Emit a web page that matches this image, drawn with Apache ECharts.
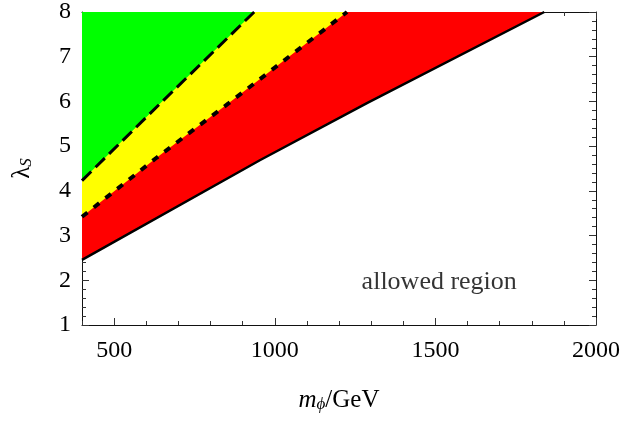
<!DOCTYPE html>
<html><head><meta charset="utf-8">
<script src="https://cdn.jsdelivr.net/npm/echarts@6/dist/echarts.min.js"></script>
<style>html,body{margin:0;padding:0;background:#fff}#c{width:624px;height:423px}</style>
</head><body><div id="c"></div>
<script>
// ---- data ----
const xTickLabels = [500, 1000, 1500, 2000];
const yTickLabels = [1, 2, 3, 4, 5, 6, 7, 8];
// solid black boundary (red region above it)
const solidLine = [[400, 2.455], [955, 4.69], [1287, 5.96], [1839, 8]];
// dotted boundary (yellow region above it)
const dottedLine = [[400, 3.42], [633, 4.745], [856, 5.957], [1225, 8]];
// dashed boundary (green region above it)
const dashedLine = [[400, 4.23], [644, 5.957], [936, 8]];
const annotationPoint = [[1512, 1.95]];
const annotationText = 'allowed region';

const FONT = '"Liberation Serif", "Times New Roman", "DejaVu Serif", serif';
const tickColor = '#333';

function xAx(pos, isMajor, showLabel) {
  return {
    type: 'value', position: pos, min: 400, max: 2000,
    interval: isMajor ? undefined : 100,
    axisLine: { show: isMajor, onZero: false, lineStyle: { color: '#111', width: 1 } },
    axisTick: isMajor
      ? { show: true, inside: true, length: 7, customValues: xTickLabels, lineStyle: { color: tickColor } }
      : { show: true, inside: true, length: 4, lineStyle: { color: tickColor } },
    axisLabel: showLabel
      ? { show: true, customValues: xTickLabels, formatter: v => String(v), margin: 14, fontFamily: FONT, fontSize: 24, color: '#000' }
      : { show: false },
    splitLine: { show: false },
    name: showLabel ? '{i|m}{sub|ϕ}{r|/GeV}' : '',
    nameLocation: 'middle', nameGap: 63,
    nameTextStyle: {
      rich: {
        i: { fontFamily: FONT, fontStyle: 'italic', fontSize: 25, color: '#000' },
        sub: { fontFamily: FONT, fontStyle: 'italic', fontSize: 17, color: '#000', verticalAlign: 'bottom', padding: [8, 0, 0, 0] },
        r: { fontFamily: FONT, fontSize: 25, color: '#000' }
      }
    }
  };
}
function yAx(pos, showLabel) {
  return {
    type: 'value', position: pos, min: 1, max: 8, interval: 1,
    axisLine: { show: true, onZero: false, lineStyle: { color: '#111', width: 1 } },
    axisTick: { show: true, inside: true, length: 7, lineStyle: { color: tickColor } },
    minorTick: { show: true, splitNumber: 5, length: 4, lineStyle: { color: tickColor } },
    axisLabel: showLabel
      ? { show: true, margin: 11, formatter: v => String(v), fontFamily: FONT, fontSize: 24, color: '#000' }
      : { show: false },
    splitLine: { show: false },
    name: showLabel ? '{i|λ}{sub|S}' : '',
    nameLocation: 'middle', nameGap: 47, nameRotate: 90,
    nameTextStyle: {
      rich: {
        i: { fontFamily: FONT, fontSize: 25, color: '#000' },
        sub: { fontFamily: FONT, fontStyle: 'italic', fontSize: 17, color: '#000', verticalAlign: 'bottom', padding: [8, 0, 0, 0] }
      }
    }
  };
}

const chart = echarts.init(document.getElementById('c'), null, { renderer: 'canvas' });
chart.setOption({
  animation: false,
  backgroundColor: '#fff',
  textStyle: { fontFamily: FONT },
  grid: { left: 82, right: 28, top: 7, bottom: 98, containLabel: false },
  xAxis: [xAx('bottom', true, true), xAx('bottom', false, false), xAx('top', true, false), xAx('top', false, false)],
  yAxis: [yAx('left', true), yAx('right', false)],
  series: [
    {
      type: 'line', data: solidLine, symbol: 'none', xAxisIndex: 0, yAxisIndex: 0,
      lineStyle: { color: '#000', width: 2.5 },
      areaStyle: { color: '#ff0000', opacity: 1, origin: 'end' }
    },
    {
      type: 'line', data: dottedLine, symbol: 'none', xAxisIndex: 0, yAxisIndex: 0,
      lineStyle: { color: '#000', width: 4, type: [7, 8] },
      areaStyle: { color: '#ffff00', opacity: 1, origin: 'end' }
    },
    {
      type: 'line', data: dashedLine, symbol: 'none', xAxisIndex: 0, yAxisIndex: 0,
      lineStyle: { color: '#000', width: 3, type: [13, 6] },
      areaStyle: { color: '#00ff00', opacity: 1, origin: 'end' }
    },
    {
      type: 'scatter', data: annotationPoint, symbolSize: 0, xAxisIndex: 0, yAxisIndex: 0,
      label: { show: true, position: 'inside', formatter: annotationText, fontFamily: FONT, fontSize: 26, color: '#000' },
      silent: true
    }
  ]
});
</script></body></html>
